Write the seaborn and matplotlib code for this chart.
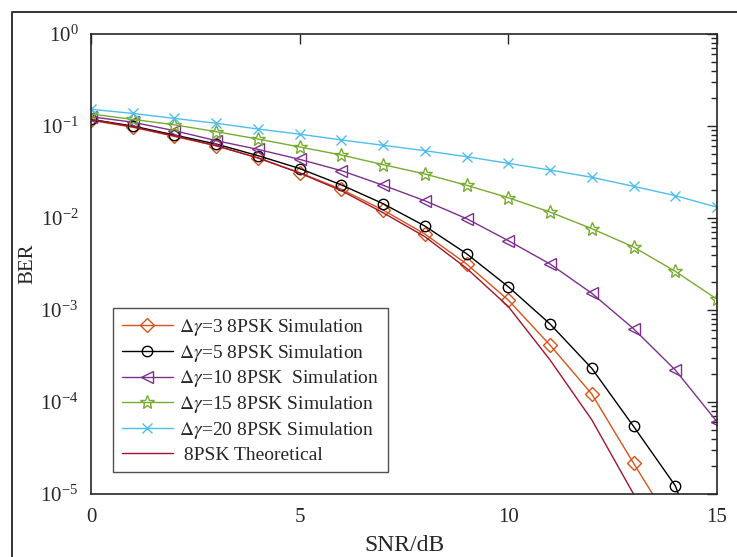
import numpy as np
import pandas as pd
import matplotlib
matplotlib.use("Agg")
import matplotlib.pyplot as plt
import seaborn as sns
from matplotlib.lines import Line2D
from matplotlib.ticker import LogLocator, FuncFormatter, NullFormatter

snr = list(range(16))
ber_d3 = [0.115, 0.097, 0.077, 0.061, 0.045, 0.0311, 0.0205, 0.0122, 0.0067, 0.00316,
          0.00128, 0.000415, 0.000122, 2.16e-5, 4e-6, 5e-7]
ber_d5 = [0.118, 0.100, 0.0798, 0.0637, 0.0476, 0.0345, 0.0229, 0.0143, 0.00818, 0.00409,
          0.00179, 0.000705, 0.000232, 5.44e-5, 1.23e-5, 8e-7]
ber_d10 = [0.126, 0.110, 0.0889, 0.0693, 0.0557, 0.0434, 0.0327, 0.0227, 0.0154, 0.00984,
           0.00567, 0.00316, 0.00152, 0.000626, 0.000223, 6.1e-5]
ber_d15 = [0.135, 0.118, 0.103, 0.0867, 0.0722, 0.0592, 0.0484, 0.0380, 0.0301, 0.0227,
           0.0166, 0.0116, 0.00766, 0.00484, 0.00263, 0.00131]
ber_d20 = [0.152, 0.137, 0.121, 0.107, 0.0927, 0.0815, 0.0705, 0.0617, 0.0539, 0.0464,
           0.0393, 0.0332, 0.0277, 0.0221, 0.0175, 0.0131]
ber_theory = [0.118, 0.098, 0.078, 0.061, 0.045, 0.0308, 0.0198, 0.0114, 0.00627, 0.00284,
              0.00109, 0.000286, 6.4e-5, 1.0e-5, 1.2e-6, 1e-7]

labels = [r"$\Delta\gamma$=3 8PSK Simulation",
          r"$\Delta\gamma$=5 8PSK Simulation",
          r"$\Delta\gamma$=10 8PSK  Simulation",
          r"$\Delta\gamma$=15 8PSK Simulation",
          r"$\Delta\gamma$=20 8PSK Simulation",
          " 8PSK Theoretical"]

sns.set_style("white")
plt.rcParams["font.family"] = ["Liberation Serif", "DejaVu Serif"]
plt.rcParams["mathtext.fontset"] = "stix"

fig = plt.figure(figsize=(7.37, 5.57), dpi=100)
ax = fig.add_axes([91/737, 63/557, 626/737, 460/557])

series = [
    (ber_d3, "#D95319", "D", 7, labels[0]),
    (ber_d5, "#000000", "o", 7.5, labels[1]),
    (ber_d10, "#7E2F8E", "<", 8.5, labels[2]),
    (ber_d15, "#77AC30", "*", 10, labels[3]),
    (ber_d20, "#4DBEEE", "x", 7, labels[4]),
    (ber_theory, "#A2142F", None, 0, labels[5]),
]
for vals, col, mk, ms, lab in series:
    df = pd.DataFrame({"SNR": snr, "BER": vals})
    kw = dict(marker=mk, markersize=ms, markerfacecolor="none",
              markeredgecolor=col, markeredgewidth=1.0) if mk else {}
    sns.lineplot(data=df, x="SNR", y="BER", color=col, linewidth=1.0,
                 label=lab, ax=ax, **kw)

ax.set_yscale("log")
ax.set_xlim(0, 15)
ax.set_ylim(1e-5, 1)
ax.set_xticks([0, 5, 10, 15])
ax.yaxis.set_major_locator(LogLocator(base=10, numticks=10))
ax.yaxis.set_major_formatter(FuncFormatter(
    lambda v, p: r"$\mathregular{10^{%d}}$" % int(round(np.log10(v)))))
ax.yaxis.set_minor_locator(LogLocator(base=10, subs=np.arange(2, 10), numticks=20))
ax.yaxis.set_minor_formatter(NullFormatter())
ax.tick_params(axis="both", which="both", direction="in", top=True, right=True,
               labelsize=15, colors="#262626", width=1.0)
ax.tick_params(axis="x", which="major", pad=10)
ax.tick_params(axis="y", which="major", pad=9)
ax.tick_params(which="major", length=7)
ax.tick_params(which="minor", length=4)
for s in ax.spines.values():
    s.set_linewidth(1.2)
    s.set_color("#262626")
ax.set_xlabel("SNR/dB", fontsize=17, labelpad=6)
ax.set_ylabel("BER", fontsize=15, labelpad=2)

leg = ax.legend(loc="lower left", bbox_to_anchor=(0.0356, 0.047), borderaxespad=0,
                fontsize=14, frameon=True, fancybox=False, edgecolor="#262626",
                handlelength=2.6, labelspacing=0.25, borderpad=0.45, handletextpad=0.35)
leg.get_frame().set_linewidth(1.0)

# outer frame
fig.add_artist(Line2D([12/737, 12/737, 1.0], [0.0, 1 - 12/557, 1 - 12/557],
                      transform=fig.transFigure, color="#333333", linewidth=1.4))

fig.savefig("out.png", dpi=100)
